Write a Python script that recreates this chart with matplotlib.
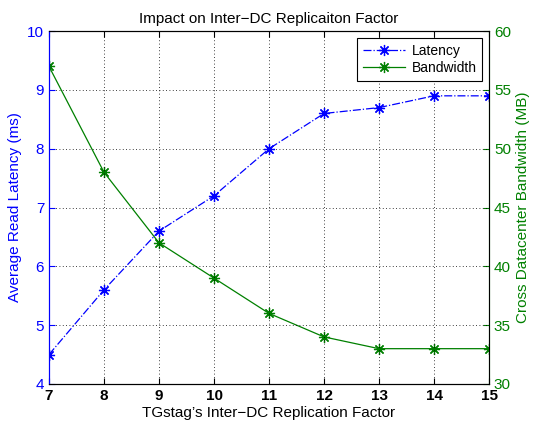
import matplotlib.pyplot as plt

plt.rcParams['font.family'] = ['Liberation Sans', 'DejaVu Sans']

factor = [7, 8, 9, 10, 11, 12, 13, 14, 15]
latency = [4.5, 5.6, 6.6, 7.2, 8.0, 8.6, 8.7, 8.9, 8.9]
bandwidth = [57, 48, 42, 39, 36, 34, 33, 33, 33]

blue = "#0000ff"
green = "#008000"
star = (8, 2, 0)  # asterisk, matlab style

fig = plt.figure(figsize=(5.36, 4.21), dpi=100)
ax = fig.add_axes([0.0914, 0.088, 0.821, 0.838])
ax2 = ax.twinx()

l1, = ax.plot(factor, latency, "-.", color=blue, marker=star, markersize=8, mew=0.9, lw=0.9, label="Latency")
l2, = ax2.plot(factor, bandwidth, "-", color=green, marker=star, markersize=8, mew=0.9, lw=0.9, label="Bandwidth")

ax.set_xlim(7, 15)
ax.set_ylim(4, 10)
ax2.set_ylim(30, 60)
ax.set_xticks(factor)
ax.set_yticks(range(4, 11))
ax2.set_yticks(range(30, 61, 5))

ax.grid(True, linestyle=(0, (1, 3)), color="black", lw=0.6)
ax.tick_params(direction="in", length=4, top=True)
ax.tick_params(axis="x", labelsize=11)
for t in ax.get_xticklabels():
    t.set_fontweight("bold")
ax.tick_params(axis="y", colors=blue, labelsize=11)
ax2.tick_params(axis="y", colors=green, direction="in", length=4, labelsize=11)

ax.spines["left"].set_color(blue)
ax2.spines["left"].set_color(blue)
ax2.spines["right"].set_color(green)

ax.set_xlabel("TGstag\u2019s Inter\u2212DC Replication Factor", fontsize=11, labelpad=2)
ax.set_ylabel("Average Read Latency (ms)", color=blue, fontsize=11)
ax2.set_ylabel("Cross Datacenter Bandwidth (MB)", color=green, fontsize=11)
ax.set_title("Impact on Inter\u2212DC Replicaiton Factor", fontsize=11, pad=6)

leg = ax.legend([l1, l2], ["Latency", "Bandwidth"], loc="upper right", fancybox=False,
                edgecolor="black", fontsize=10, handlelength=3, borderaxespad=0.5,
                framealpha=1, labelspacing=0.25, handletextpad=0.5)
leg.get_frame().set_linewidth(0.8)
ax.set_zorder(ax2.get_zorder() + 1)
ax.patch.set_visible(False)

fig.savefig("out.png", dpi=100)
